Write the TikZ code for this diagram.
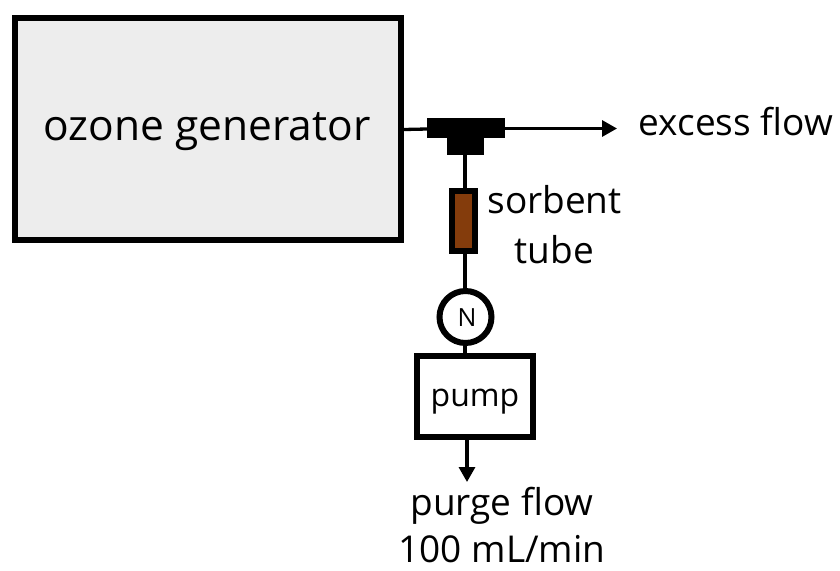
\documentclass[tikz,border=0pt]{standalone}
\usepackage{fontspec}
\setmainfont{Open Sans}
\usetikzlibrary{arrows.meta}
\definecolor{genfill}{RGB}{237,237,237}
\definecolor{sorbent}{RGB}{132,60,12}
\tikzset{
  box/.style={draw=black,line width=6pt,inner sep=0pt,anchor=north west},
  pipe/.style={draw=black,line width=3.3pt},
  flow/.style={pipe,-{Triangle[length=15pt,width=16pt]}},
  label/.style={inner sep=0pt,text=black,align=center},
  solid block/.style={fill=black,draw=none,inner sep=0pt,anchor=north west}
}
\begin{document}
\begin{tikzpicture}[x=1pt,y=-1pt]
\useasboundingbox (0,0) rectangle (840,570);
\node[box,fill=genfill,minimum width=386pt,minimum height=222pt] (gen) at (12,15) {};
\node[label,font=\fontsize{42.5}{48}\selectfont] (gentext) at (207,132) {ozone generator};
\node[solid block,minimum width=78pt,minimum height=20pt] (teetop) at (427,118) {};
\node[solid block,minimum width=37pt,minimum height=17pt] (teelow) at (447,137.5) {};
\node[box,fill=sorbent,minimum width=23pt,minimum height=60pt] (tube) at (449,188) {};
\node[circle,draw=black,line width=6pt,fill=white,minimum size=52pt,inner sep=0pt] (needle) at (465.5,317) {};
\node[label,font=\fontsize{25}{30}\selectfont] at (467,318) {N};
\node[box,fill=white,minimum width=116pt,minimum height=81pt] (pump) at (414,353) {};
\node[label,font=\fontsize{32}{38}\selectfont] (pumptext) at (475,402) {pump};
\coordinate (exc) at (617,128.5);
\coordinate (purge) at (467,482);
\coordinate (riser) at (465,200);
\draw[pipe] (gen.east |- 0,129.5) -- (teetop.west |- 0,129);
\draw[flow] (teetop.east |- exc) -- (exc);
\draw[pipe] (teelow.south -| riser) -- (tube.north -| riser);
\draw[pipe] (tube.south -| riser) -- (needle.north -| riser);
\draw[pipe] (needle.south -| riser) -- (pump.north -| riser);
\draw[flow] (purge |- pump.south) -- (purge);
\node[label,font=\fontsize{37}{50}\selectfont] (exctext) at (736,122) {excess flow};
\node[label,font=\fontsize{37}{50}\selectfont] (tubetext) at (554.5,224.5) {sorbent\\tube};
\node[label,font=\fontsize{37}{47}\selectfont] (purgetext) at (502,525) {purge flow\\100 mL/min};
\end{tikzpicture}
\end{document}
